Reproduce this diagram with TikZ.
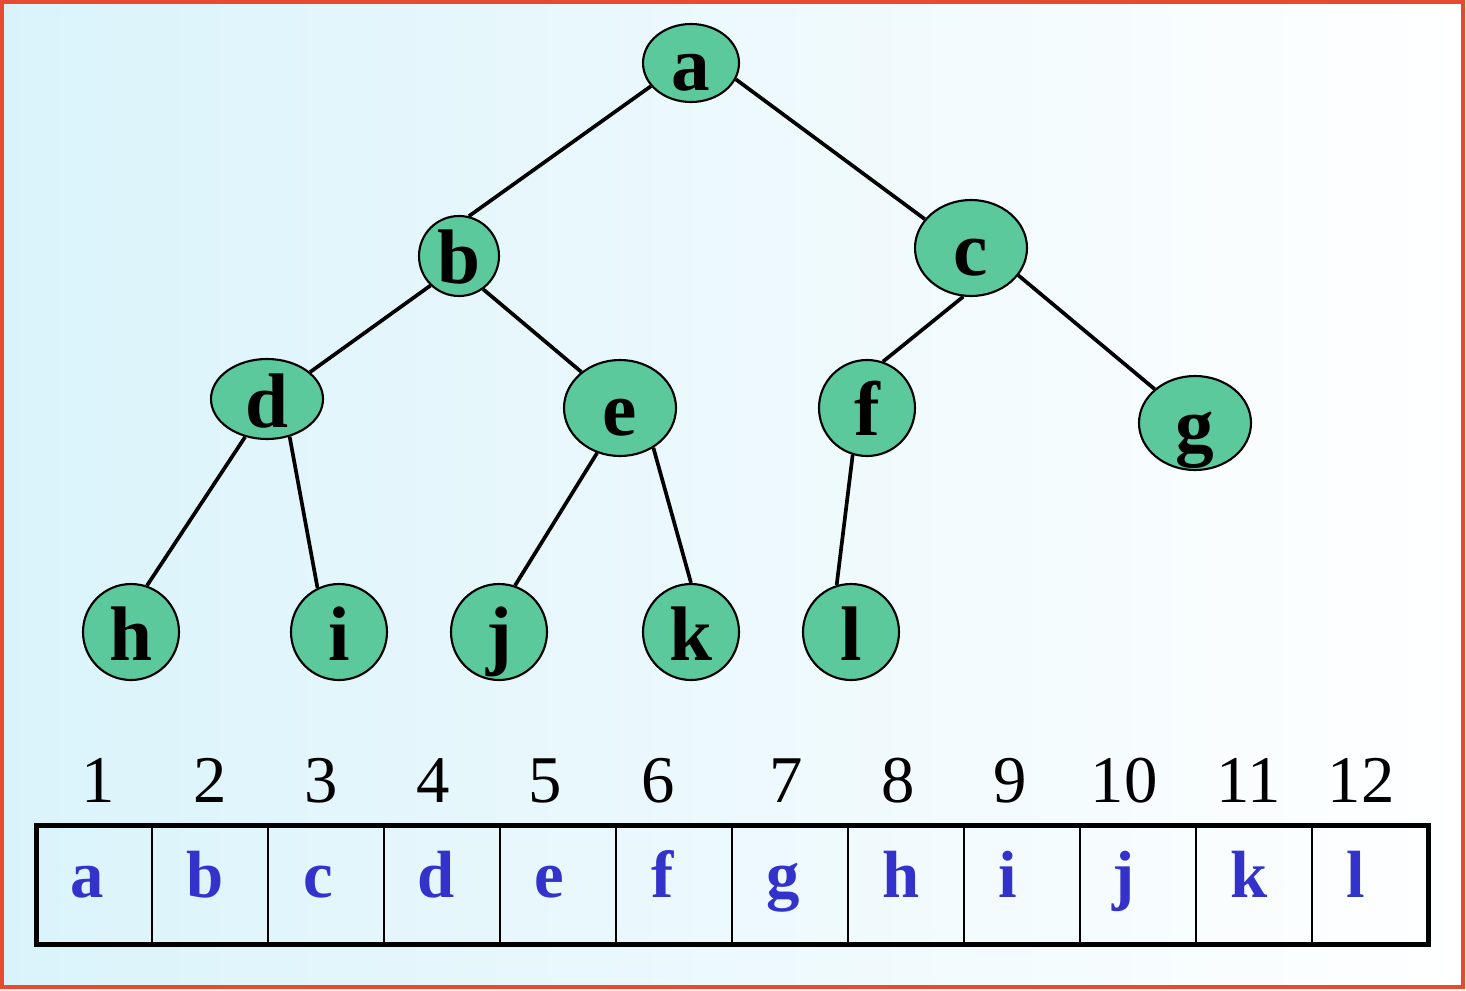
\documentclass[tikz,border=0pt]{standalone}
\usepackage{fontspec}
\setmainfont{Liberation Serif}
\usetikzlibrary{shapes.geometric}
\definecolor{nodegreen}{RGB}{92,201,156}
\definecolor{cellblue}{RGB}{51,51,204}
\definecolor{framered}{RGB}{232,74,48}
\definecolor{bgblue}{RGB}{218,243,251}
\begin{document}
\begin{tikzpicture}[x=0.02cm,y=-0.02cm,
  tn/.style 2 args={ellipse, draw=black, line width=1.2pt, fill=nodegreen, inner sep=0pt,
    minimum width=#1*0.02cm, minimum height=#2*0.02cm,
    font=\fontsize{44}{44}\selectfont\bfseries},
  edge/.style={line width=2.1pt},
  num/.style={anchor=base, font=\fontsize{38}{38}\selectfont},
  celltext/.style={anchor=base, font=\fontsize{38}{38}\selectfont\bfseries, text=cellblue},
  divider/.style={line width=1.1pt}]
\newcommand{\lt}[1]{\smash{\raisebox{-0.56cm}{#1}}}
\useasboundingbox (0,0) rectangle (1466,990);
% background
\shade[left color=bgblue, right color=white] (0,0) rectangle (1466,990);
\draw[framered, line width=0.09cm] (2,2) rectangle (1463,987);
% tree nodes
\node[tn={96}{78}] (a) at (691,63) {\lt{a}};
\node[tn={80}{80}] (b) at (459,256) {\lt{b}};
\node[tn={112}{96}] (c) at (971,248) {\lt{c}};
\node[tn={112}{80}] (d) at (267,399) {\lt{d}};
\node[tn={112}{96}] (e) at (620,408) {\lt{e}};
\node[tn={96}{96}] (f) at (867,408) {\lt{f}};
\node[tn={112}{94}] (g) at (1195,423) {\lt{g}};
\node[tn={96}{96}] (h) at (131,632) {\lt{h}};
\node[tn={96}{96}] (i) at (339,632) {\lt{i}};
\node[tn={96}{96}] (j) at (499,632) {\lt{j}};
\node[tn={96}{96}] (k) at (691,632) {\lt{k}};
\node[tn={96}{96}] (l) at (851,632) {\lt{l}};
% edges
\draw[edge] (a.210) -- (b.76);
\draw[edge] (a.-20) -- (c.148);
\draw[edge] (b.226) -- (d.32);
\draw[edge] (b.-54) -- (e.137);
\draw[edge] (c.-99) -- (f.71);
\draw[edge] (c.-30) -- (g.140);
\draw[edge] (d.-120) -- (h.71);
\draw[edge] (d.-59) -- (i.116);
\draw[edge] (e.-117) -- (j.71);
\draw[edge] (e.-50) -- (k.90);
\draw[edge] (f.-107) -- (l.107);
% array
\coordinate (arrTL) at (36,825);
\coordinate (arrBR) at (1428,944);
\foreach \x in {152,268,384,500,616,732,848,964,1080,1196,1312}
  \draw[divider] (\x,825) -- (\x,944);
\draw[line width=0.1cm] (arrTL) rectangle (arrBR);
% index numbers
\foreach \n/\x in {1/98,2/210,3/321,4/433,5/545,6/658,7/786,8/898,9/1010,10/1124,11/1249,12/1361}
  \node[num] (n\n) at (\x,802) {\n};
% cell letters
\foreach \t/\x in {a/87,b/205,c/318,d/436,e/549,f/663,g/783,h/901,i/1008,j/1124,k/1249,l/1356}
  \node[celltext] (s\t) at (\x,897) {\t};
\end{tikzpicture}
\end{document}
